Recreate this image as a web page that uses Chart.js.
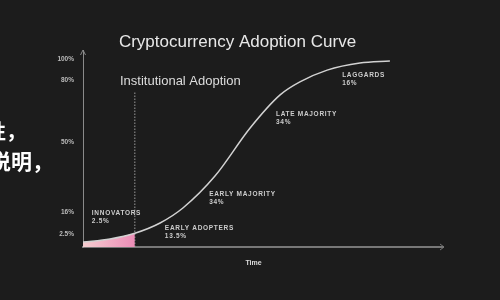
<!DOCTYPE html>
<html lang="en">
<head>
    <meta charset="UTF-8">
    <title>Cryptocurrency Adoption Curve</title>
    <script src="https://cdn.jsdelivr.net/npm/chart.js@4.4.0/dist/chart.umd.js"></script>
    <style>
        html, body {
            margin: 0;
            padding: 0;
            background: #1c1c1c;
        }
        #adoptionChart {
            display: block;
        }
    </style>
</head>
<body>
    <canvas id="adoptionChart" width="500" height="300"></canvas>

    <script>
        // curve (time in arbitrary units, height in axis units 0-100)
        const timeValues = [0, 7.9, 15.2, 22.6, 29.3, 38.7, 49.0, 57.8, 63.6, 71.6, 81.2, 90.0];
        const curveValues = [2.5, 4.1, 7.0, 12.2, 19.8, 36.0, 60.4, 77.2, 83.8, 89.8, 93.4, 94.4];

        const yTickValues = [6.6, 17.8, 53.3, 84.8, 95.4];
        const yTickLabels = ['2.5%', '16%', '50%', '80%', '100%'];

        const phaseNames = ['INNOVATORS', 'EARLY ADOPTERS', 'EARLY MAJORITY', 'LATE MAJORITY', 'LAGGARDS'];
        const phaseShares = ['2.5%', '13.5%', '34%', '34%', '16%'];

        const institutionalTime = 15.2;
        const institutionalTop = 78.7;

        // where the phase labels sit (x, y in axis units)
        const phaseLabelAt = [[2.6, 17.3], [24.0, 9.6], [37.0, 26.9], [56.6, 67.5], [76.0, 87.3]];

        const FONT = "'Liberation Sans', Arial, sans-serif";

        const curvePoints = timeValues.map((t, i) => ({ x: t, y: curveValues[i] }));
        const innovatorPoints = curvePoints.filter(p => p.x <= institutionalTime);

        const overlay = {
            id: 'overlay',
            afterDraw(chart) {
                const { ctx, chartArea: a, scales: { x, y } } = chart;
                ctx.save();

                // axis arrows
                ctx.strokeStyle = '#8a8a8a';
                ctx.lineWidth = 1;
                ctx.beginPath();
                ctx.moveTo(a.left - 2.5, a.top + 5);
                ctx.lineTo(a.left, a.top);
                ctx.lineTo(a.left + 2.5, a.top + 5);
                ctx.stroke();

                ctx.strokeStyle = '#777';
                ctx.lineWidth = 2;
                ctx.beginPath();
                ctx.moveTo(a.right, a.bottom);
                ctx.lineTo(a.right + 20, a.bottom);
                ctx.stroke();
                ctx.lineWidth = 1;
                ctx.beginPath();
                ctx.moveTo(a.right + 16, a.bottom - 3);
                ctx.lineTo(a.right + 20, a.bottom);
                ctx.lineTo(a.right + 16, a.bottom + 3);
                ctx.stroke();

                // title
                ctx.fillStyle = '#e8e8e8';
                ctx.font = '17px ' + FONT;
                ctx.textAlign = 'center';
                ctx.textBaseline = 'middle';
                ctx.fillText('Cryptocurrency Adoption Curve', 237.5, 42);

                // institutional adoption label
                ctx.fillStyle = '#dddddd';
                ctx.font = '13px ' + FONT;
                ctx.textAlign = 'left';
                ctx.fillText('Institutional Adoption', 120, 81);

                // phase labels
                ctx.fillStyle = '#cccccc';
                ctx.font = 'bold 6.5px ' + FONT;
                ctx.letterSpacing = '0.7px';
                phaseNames.forEach((name, i) => {
                    const px = x.getPixelForValue(phaseLabelAt[i][0]);
                    const py = y.getPixelForValue(phaseLabelAt[i][1]);
                    ctx.fillText(name, px, py);
                    ctx.fillText(phaseShares[i], px, py + 8.5);
                });
                ctx.letterSpacing = '0px';

                // text bleeding in from the left edge
                ctx.fillStyle = '#ffffff';
                ctx.font = "bold 20px 'Noto Sans CJK SC'";
                ctx.fillText('性，', -14, 131);
                ctx.font = "bold 21px 'Noto Sans CJK SC'";
                ctx.fillText('说明，', -10, 161);

                ctx.restore();
            }
        };

        const ctx = document.getElementById('adoptionChart').getContext('2d');

        new Chart(ctx, {
            type: 'line',
            data: {
                datasets: [
                    {
                        label: 'Adoption',
                        data: curvePoints,
                        borderColor: '#d2d2d2',
                        borderWidth: 1.5,
                        pointRadius: 0,
                        cubicInterpolationMode: 'monotone',
                        fill: false,
                        order: 1
                    },
                    {
                        label: 'Innovators',
                        data: innovatorPoints,
                        borderWidth: 0,
                        pointRadius: 0,
                        cubicInterpolationMode: 'monotone',
                        fill: 'origin',
                        backgroundColor: function(context) {
                            const chart = context.chart;
                            const area = chart.chartArea;
                            if (!area) return '#ee9fbe';
                            const xs = chart.scales.x;
                            const g = chart.ctx.createLinearGradient(area.left, 0, xs.getPixelForValue(institutionalTime), 0);
                            g.addColorStop(0, '#f6cdd0');
                            g.addColorStop(1, '#ec8db7');
                            return g;
                        },
                        order: 2
                    },
                    {
                        label: 'Institutional',
                        data: [{ x: institutionalTime, y: 0 }, { x: institutionalTime, y: institutionalTop }],
                        borderColor: '#9a9a9a',
                        borderWidth: 1,
                        borderDash: [1.5, 1.5],
                        pointRadius: 0,
                        tension: 0,
                        fill: false,
                        order: 3
                    }
                ]
            },
            options: {
                responsive: false,
                animation: false,
                layout: {
                    padding: { top: 50, right: 76, left: 0, bottom: 0 }
                },
                plugins: {
                    legend: { display: false },
                    tooltip: { enabled: false }
                },
                scales: {
                    x: {
                        type: 'linear',
                        min: 0,
                        max: 100,
                        grid: { display: false, drawTicks: false },
                        border: { display: true, color: '#777', width: 2 },
                        ticks: { display: false },
                        title: {
                            display: true,
                            text: 'Time',
                            color: '#dddddd',
                            font: { family: FONT, size: 7, weight: 'bold' },
                            padding: { top: 0, bottom: 33 }
                        },
                        afterFit: function(scale) {
                            scale.height = 53;
                        }
                    },
                    y: {
                        type: 'linear',
                        min: 0,
                        max: 100,
                        grid: { display: false, drawTicks: false },
                        border: { display: true, color: '#8a8a8a', width: 1 },
                        afterBuildTicks: function(scale) {
                            scale.ticks = yTickValues.map(v => ({ value: v }));
                        },
                        ticks: {
                            color: '#bbbbbb',
                            padding: 9,
                            font: { family: FONT, size: 6.5, weight: 'bold' },
                            callback: function(value) {
                                return yTickLabels[yTickValues.indexOf(value)];
                            }
                        },
                        afterFit: function(scale) {
                            scale.width = 83;
                        }
                    }
                }
            },
            plugins: [overlay]
        });
    </script>
</body>
</html>
